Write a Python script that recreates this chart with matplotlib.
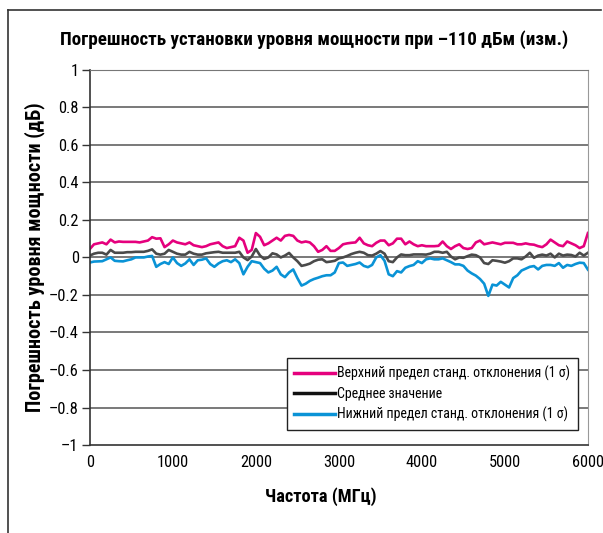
import numpy as np
import matplotlib
matplotlib.use('Agg')
import matplotlib.pyplot as plt
from matplotlib.lines import Line2D

plt.rcParams['font.family'] = ['Roboto Condensed', 'DejaVu Sans']

# frequency grid, MHz (step 50)
freq = np.arange(0, 6001, 50)

upper = [
    0.045, 0.07, 0.075, 0.08, 0.07, 0.095, 0.08, 0.085, 0.083, 0.083,
    0.083, 0.083, 0.08, 0.085, 0.09, 0.108, 0.10, 0.102, 0.055, 0.07,
    0.09, 0.08, 0.075, 0.07, 0.08, 0.065, 0.06, 0.055, 0.06, 0.07,
    0.075, 0.08, 0.06, 0.05, 0.055, 0.06, 0.105, 0.09, 0.025, 0.04,
    0.13, 0.11, 0.065, 0.075, 0.09, 0.105, 0.09, 0.115, 0.12, 0.115,
    0.09, 0.08, 0.085, 0.08, 0.06, 0.03, 0.04, 0.06, 0.035, 0.035,
    0.05, 0.07, 0.075, 0.078, 0.08, 0.105, 0.075, 0.065, 0.06, 0.078,
    0.09, 0.09, 0.065, 0.075, 0.10, 0.10, 0.07, 0.085, 0.07, 0.06,
    0.065, 0.06, 0.06, 0.06, 0.062, 0.085, 0.06, 0.045, 0.06, 0.07,
    0.05, 0.045, 0.05, 0.08, 0.09, 0.07, 0.075, 0.08, 0.075, 0.07,
    0.078, 0.078, 0.078, 0.07, 0.07, 0.075, 0.07, 0.068, 0.06, 0.055,
    0.07, 0.095, 0.08, 0.065, 0.06, 0.085, 0.075, 0.065, 0.05, 0.06,
    0.13,
]

mean = [
    0.01, 0.02, 0.025, 0.025, 0.015, 0.04, 0.025, 0.025, 0.025, 0.028,
    0.028, 0.03, 0.03, 0.03, 0.035, 0.043, 0.02, 0.015, 0.02, 0.04,
    0.03, 0.02, 0.015, 0.015, 0.03, 0.02, 0.015, 0.015, 0.022, 0.025,
    0.028, 0.03, 0.025, 0.025, 0.025, 0.025, 0.03, 0.0, -0.014, 0.005,
    0.045, 0.01, -0.008, 0.0, 0.022, 0.016, 0.0, 0.01, 0.024, 0.0,
    -0.02, -0.045, -0.04, -0.033, -0.02, -0.012, -0.01, -0.025, -0.022, -0.018,
    -0.005, 0.0, 0.008, 0.018, 0.025, 0.03, 0.025, 0.012, 0.01, 0.02,
    0.034, 0.02, -0.02, -0.025, 0.0, 0.016, 0.012, 0.012, 0.016, 0.016,
    0.016, 0.015, 0.02, 0.03, 0.03, 0.025, 0.03, 0.005, -0.01, 0.0,
    -0.002, 0.007, 0.015, 0.012, 0.0, -0.03, -0.035, -0.015, -0.018, -0.022,
    -0.028, -0.02, -0.005, -0.005, -0.01, 0.005, 0.025, -0.002, 0.01, 0.015,
    0.01, 0.02, 0.0, 0.02, 0.01, 0.015, 0.013, 0.005, 0.025, 0.01,
    0.025,
]

lower = [
    -0.027, -0.022, -0.021, -0.02, -0.01, 0.0, -0.018, -0.02, -0.021, -0.015,
    -0.01, 0.0, 0.0, 0.0, 0.005, 0.008, -0.05, -0.035, -0.025, -0.035,
    0.0, -0.03, -0.045, -0.032, -0.01, -0.04, -0.015, -0.012, -0.005, -0.035,
    -0.05, -0.032, -0.02, -0.015, -0.025, -0.01, -0.03, -0.09, -0.05, -0.02,
    -0.025, -0.03, -0.06, -0.08, -0.07, -0.05, -0.09, -0.105, -0.08, -0.064,
    -0.11, -0.15, -0.14, -0.125, -0.115, -0.108, -0.10, -0.095, -0.095, -0.08,
    -0.03, -0.027, -0.045, -0.04, -0.035, -0.027, -0.045, -0.052, -0.04, 0.0,
    0.012, -0.018, -0.09, -0.1, -0.073, -0.08, -0.055, -0.046, -0.04, -0.02,
    -0.03, -0.01, -0.005, -0.01, -0.01, -0.005, -0.015, -0.025, -0.037, -0.037,
    -0.045, -0.07, -0.085, -0.097, -0.115, -0.14, -0.205, -0.145, -0.15, -0.13,
    -0.145, -0.16, -0.11, -0.095, -0.07, -0.06, -0.05, -0.046, -0.064, -0.045,
    -0.04, -0.04, -0.045, -0.03, -0.055, -0.04, -0.045, -0.035, -0.028, -0.03,
    -0.065,
]

y_ticks = [1, 0.8, 0.6, 0.4, 0.2, 0, -0.2, -0.4, -0.6, -0.8, -1]
y_labels = ['1', '0.8', '0.6', '0.4', '0.2', '0', '–0.2', '–0.4', '–0.6', '–0.8', '–1']
x_ticks = [0, 1000, 2000, 3000, 4000, 5000, 6000]

fig = plt.figure(figsize=(6.03, 5.33), dpi=100)
ax = fig.add_axes([0.149, 0.165, 0.826, 0.704])

ax.plot(freq, upper, color='#e5007d', lw=1.9, label='Верхний предел станд. отклонения (1 σ)')
ax.plot(freq, mean, color='#4a4a4a', lw=1.9, label='Среднее значение')
ax.plot(freq, lower, color='#0a93d6', lw=1.9, label='Нижний предел станд. отклонения (1 σ)')

ax.set_xlim(0, 6000)
ax.set_ylim(-1, 1)
ax.set_yticks(y_ticks)
ax.set_yticklabels(y_labels)
ax.set_xticks(x_ticks)
ax.tick_params(axis='y', length=6, width=1, color='#333333', labelsize=11.8, pad=2)
ax.tick_params(axis='x', length=0, labelsize=11.8, pad=7)
for y in y_ticks[1:-1]:
    ax.axhline(y, color='#555555', lw=1.1, zorder=1)
ax.spines['left'].set_color('#333333')
ax.spines['bottom'].set_color('#333333')
ax.spines['top'].set_color('#777777')
ax.spines['right'].set_color('#999999')
ax.spines['left'].set_linewidth(1.2)
ax.spines['bottom'].set_linewidth(1.2)

leg = ax.legend(loc='lower right', bbox_to_anchor=(0.98, 0.04), fontsize=10,
                frameon=True, fancybox=False, handlelength=2.9, handletextpad=0.2,
                borderpad=0.55, labelspacing=0.42, borderaxespad=0)
leg.get_frame().set_edgecolor('#222222')
leg.get_frame().set_linewidth(1.0)
leg.get_frame().set_alpha(1)
leg.legend_handles[1].set_color('#111111')
for h in leg.legend_handles:
    h.set_linewidth(2.5)

fig.text(0.521, 0.925, 'Погрешность установки уровня мощности при –110 дБм (изм.)',
         ha='center', va='center', fontsize=13.7, fontweight='bold')
fig.text(0.532, 0.068, 'Частота (МГц)', ha='center', va='center',
         fontsize=13.2, fontweight='bold')
fig.text(0.058, 0.517, 'Погрешность уровня мощности (дБ)', ha='center', va='center',
         rotation=90, fontsize=14.5, fontweight='bold')

# frame around the figure (left and top only)
fig.add_artist(Line2D([0.0135, 0.0135], [0.0, 0.981], color='#333333', lw=1.2))
fig.add_artist(Line2D([0.0135, 0.997], [0.981, 0.981], color='#333333', lw=1.2))

fig.savefig('out.png', dpi=100)
